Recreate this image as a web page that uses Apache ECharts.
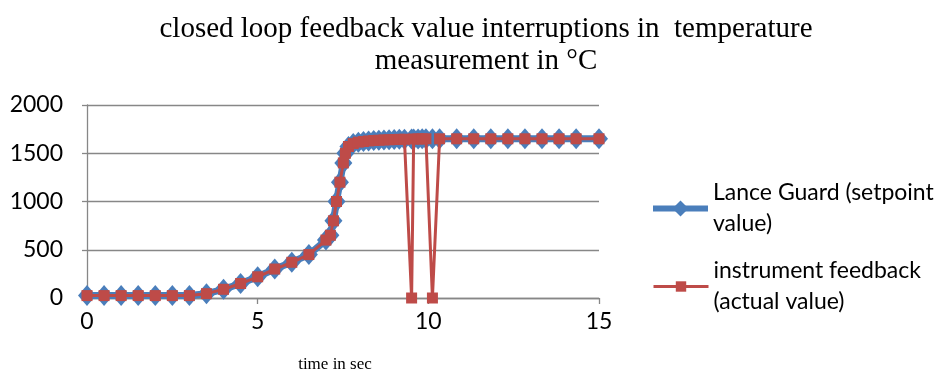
<!DOCTYPE html>
<html>
<head>
<meta charset="utf-8">
<script src="https://cdn.jsdelivr.net/npm/echarts@6/dist/echarts.min.js"></script>
<style>
html,body{margin:0;padding:0;background:#fff;}
#chart{width:952px;height:378px;}
</style>
</head>
<body>
<div id="chart"></div>
<script>
// time in sec
const timeSec = [0,0.5,1,1.5,2,2.5,3,3.5,4,4.5,5,5.5,6,6.5,7.0,
  7.13,7.22,7.31,7.41,7.51,7.57,
  7.66,7.8,7.95,8.1,8.25,8.4,8.55,8.7,8.85,9.0,9.15,9.3,
  9.51,9.57,9.7,9.82,9.93,10.12,
  10.33,10.83,11.33,11.83,12.33,12.83,13.33,13.83,14.33,15];
// Lance Guard (setpoint value)
const setpointValues = [25,25,25,25,25,25,25,45,90,150,220,300,370,450,600,
  650,800,1000,1200,1400,1500,
  1570,1600,1615,1622,1628,1632,1635,1638,1640,1642,1644,1645,
  1647,1648,1648,1649,1650,1650,
  1650,1650,1650,1650,1650,1650,1650,1650,1650,1650];
// instrument feedback (actual value)
const feedbackValues = [25,25,25,25,25,25,25,45,90,150,220,300,370,450,600,
  650,800,1000,1200,1400,1500,
  1570,1600,1615,1622,1628,1632,1635,1638,1640,1642,1644,1645,
  0,1648,1648,1649,1650,0,
  1650,1650,1650,1650,1650,1650,1650,1650,1650,1650];
const xTicks = [0,5,10,15];
const yTicks = [0,500,1000,1500,2000];
const seriesNames = ['Lance Guard (setpoint value)','instrument feedback (actual value)'];
const legendLabels = ['Lance Guard (setpoint\nvalue)','instrument feedback\n(actual value)'];

const setpointData = timeSec.map((t,i)=>[t,setpointValues[i]]);
const feedbackData = timeSec.map((t,i)=>[t,feedbackValues[i]]);

const labelFont = 'Lato';
const gray = '#878787';
const blue = '#4A7EBB';
const red = '#BE4B48';

const chart = echarts.init(document.getElementById('chart'), null, {renderer:'canvas'});
const legendText = {fontFamily:labelFont, fontSize:23, color:'#000', lineHeight:31, padding:[31,0,0,0]};
chart.setOption({
  animation:false,
  title:{
    text:'closed loop feedback value interruptions in  temperature\nmeasurement in \u00B0C',
    left:486, top:13, textAlign:'center', padding:0,
    textStyle:{fontFamily:'Liberation Serif', fontWeight:'normal', fontSize:29, lineHeight:32, color:'#000'}
  },
  legend:[
    {data:[seriesNames[0]], orient:'vertical', left:650, top:162, padding:0, itemGap:5,
     itemWidth:55, itemHeight:20, lineStyle:{width:6}, formatter:()=>legendLabels[0], textStyle:legendText},
    {data:[seriesNames[1]], orient:'vertical', left:652, top:240, padding:0, itemGap:5,
     itemWidth:55, itemHeight:13, lineStyle:{width:3}, formatter:()=>legendLabels[1], textStyle:legendText}
  ],
  grid:{left:87, top:105, width:512, height:194, containLabel:false},
  xAxis:{
    type:'value', min:xTicks[0], max:xTicks[xTicks.length-1], interval:5,
    name:'time in sec', nameLocation:'middle', nameGap:58,
    nameTextStyle:{fontFamily:'Liberation Serif', fontSize:17, color:'#000', padding:[0,16,0,0]},
    axisLine:{show:true, lineStyle:{color:gray, width:1.3}},
    axisTick:{show:true, length:6, lineStyle:{color:gray, width:1.3}},
    axisLabel:{fontFamily:labelFont, fontSize:23, color:'#000', margin:12},
    splitLine:{show:false}
  },
  yAxis:{
    type:'value', min:yTicks[0], max:yTicks[yTicks.length-1], interval:500,
    axisLine:{show:true, lineStyle:{color:gray, width:1.3}},
    axisTick:{show:true, length:5, lineStyle:{color:gray, width:1.3}},
    axisLabel:{fontFamily:labelFont, fontSize:23, color:'#000', margin:24, formatter:v=>String(v)},
    splitLine:{show:true, lineStyle:{color:gray, width:1.3}}
  },
  series:[
    {name:seriesNames[0], type:'line', data:setpointData, symbol:'diamond', symbolSize:[18,21],
     showAllSymbol:true, clip:false,
     lineStyle:{color:blue, width:7}, itemStyle:{color:blue}, z:2},
    {name:seriesNames[1], type:'line', data:feedbackData, symbol:'rect', symbolSize:11,
     showAllSymbol:true, clip:false,
     lineStyle:{color:red, width:3}, itemStyle:{color:red}, z:3}
  ]
});
</script>
</body>
</html>
